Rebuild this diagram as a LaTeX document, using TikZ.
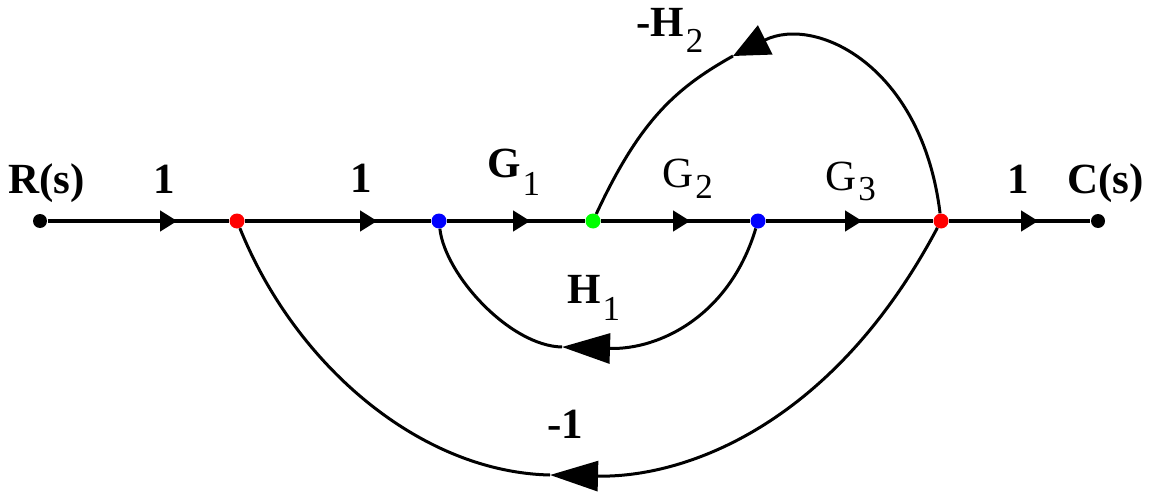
\documentclass[tikz,border=0pt]{standalone}
\usepackage{fontspec}
\setmainfont{Liberation Serif}
\usetikzlibrary{arrows.meta,decorations.markings}
\newcommand{\sublab}[3]{#1\hspace{2pt}\raisebox{#3}{\fontsize{35}{35}\selectfont\mdseries #2}}
\begin{document}
\begin{tikzpicture}[x=1pt,y=-1pt,
  dot/.style={circle,inner sep=0pt,minimum size=15pt},
  lbl/.style={anchor=base west,inner sep=0pt,font=\fontsize{43}{43}\selectfont\bfseries},
  fwd/.style={line width=3.8pt,postaction={decorate},
    decoration={markings,mark=at position #1 with {\arrow{Triangle[length=17pt,width=20pt]}}}},
  fb/.style={line width=3pt},
  bigtip/.style={-{Triangle[length=48pt,width=30pt]}},
  toptip/.style={-{Triangle[length=36pt,width=32pt]}},
]
\useasboundingbox (0,0) rectangle (1151,492);
% nodes
\node[dot] (R)  at (40,221) {};
\node[dot] (r1) at (237,221) {};
\node[dot] (b1) at (439,221) {};
\node[dot] (g)  at (593,221) {};
\node[dot] (b2) at (758,221) {};
\node[dot] (r2) at (941,221) {};
\node[dot] (C)  at (1098,221) {};
\coordinate (T2) at (733,56);
\coordinate (T1) at (562,347);
\coordinate (B)  at (550,475);
% forward path
\draw[fwd=129.5pt] (R) -- (r1);
\draw[fwd=132.5pt] (r1) -- (b1);
\draw[fwd=83.5pt] (b1) -- (g);
\draw[fwd=89.5pt] (g) -- (b2);
\draw[fwd=96.5pt] (b2) -- (r2);
\draw[fwd=89.5pt] (r2) -- (C);
% -H2 loop
\draw[fb,toptip] (r2) .. controls (922,65) and (815,15) .. (T2);
\draw[fb] (T2) .. controls (676,88) and (640,120) .. (g);
% H1 loop
\draw[fb,bigtip] (b2) .. controls (730,315) and (660,350) .. (T1);
\draw[fb] (T1) .. controls (510,346) and (445,275) .. (b1);
% -1 loop
\draw[fb,bigtip] (r2) .. controls (830,430) and (680,478) .. (B);
\draw[fb] (B) .. controls (420,472) and (295,365) .. (r1);
% dots
\fill[black] (R) circle (7pt);
\fill[black] (C) circle (7pt);
\fill[red] (r1) circle (7.5pt);
\fill[red] (r2) circle (7.5pt);
\fill[blue] (b1) circle (7.5pt);
\fill[blue] (b2) circle (7.5pt);
\fill[green] (g) circle (7.5pt);
% labels
\node[lbl] (lR) at (8,193) {R(s)};
\node[lbl] (l1a) at (153,193) {1};
\node[lbl] (l1b) at (350,192) {1};
\node[lbl] (lG1) at (487,177) {\sublab{G}{1}{-18pt}};
\node[lbl] (lG2) at (662,187) {\mdseries\sublab{G}{2}{-11pt}};
\node[lbl] (lG3) at (825,190) {\mdseries\sublab{G}{3}{-10pt}};
\node[lbl] (l1c) at (1007,193) {1};
\node[lbl] (lC) at (1067,193) {C(s)};
\node[lbl] (lH2) at (636,37) {-\sublab{H}{2}{-16pt}};
\node[lbl] (lH1) at (567,303) {\sublab{H}{1}{-17pt}};
\node[lbl] (lm1) at (547,438) {-1};
\end{tikzpicture}
\end{document}
